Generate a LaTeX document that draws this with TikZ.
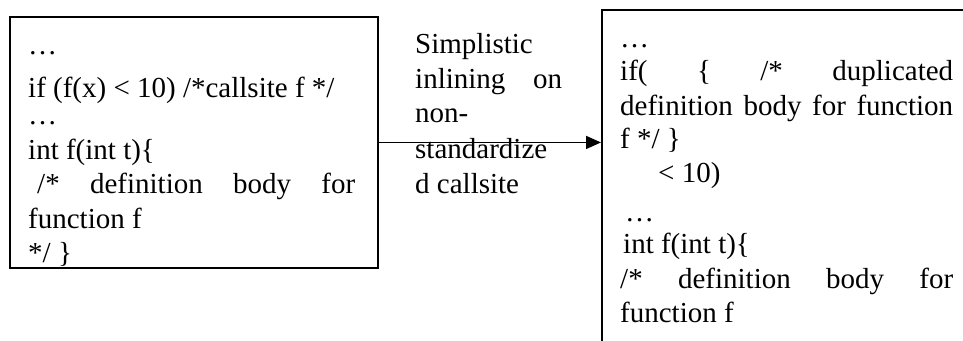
\documentclass[tikz,border=0pt]{standalone}
\usepackage{fontspec}
\setmainfont{Liberation Serif}
\usetikzlibrary{arrows.meta}
\tikzset{
  code/.style={anchor=base west, inner sep=0pt, font=\fontsize{29}{34}\selectfont},
  panel/.style={draw, line width=1.9pt, inner sep=0pt, anchor=north west},
  flow/.style={-{Triangle[length=15pt,width=13pt]}, line width=1.7pt},
}
\begin{document}
\begin{tikzpicture}[x=1pt,y=-1pt]
\useasboundingbox (0,0) rectangle (963,340);
\clip (0,0) rectangle (963,340);

% source panel: original call site and definition
\node[panel, minimum width=368pt, minimum height=251pt] (src) at (9,16) {};
\node[code] (s1) at (28,54)  {…};
\node[code] (s2) at (28,97)  {if (f(x) < 10) /*callsite f */};
\node[code] (s3) at (28,124) {…};
\node[code] (s4) at (28,159) {int f(int t)\{};
\node[code] (s5) at (37,193) {\hbox to 318pt{/*\hfill definition\hfill body\hfill for}};
\node[code] (s6) at (28,228) {function f};
\node[code] (s7) at (28,262) {*/ \}};

% result panel: body duplicated into the call site (runs past the page edge)
\node[panel, minimum width=380pt, minimum height=360pt] (dst) at (601,9) {};
\node[code] (d1) at (620,47)  {…};
\node[code] (d2) at (620,80)  {\hbox to 333pt{if(\hfill\{\hfill/*\hfill duplicated}};
\node[code] (d3) at (620,115) {\hbox to 333pt{definition\hfill body\hfill for\hfill function}};
\node[code] (d4) at (620,148) {f */ \}};
\node[code] (d5) at (658,182) {< 10)};
\node[code] (d6) at (625,221) {…};
\node[code] (d7) at (623,253) {int f(int t)\{};
\node[code] (d8) at (620,288) {\hbox to 333pt{/*\hfill definition\hfill body\hfill for}};
\node[code] (d9) at (620,322) {function f};

% transformation label
\node[code] (m1) at (415,53)  {Simplistic};
\node[code] (m2) at (415,88)  {\hbox to 147pt{inlining\hfill on}};
\node[code] (m3) at (415,122) {non-};
\node[code] (m4) at (415,158) {standardize};
\node[code] (m5) at (415,193) {d callsite};

\draw[flow] (src.east) -- (src.east -| dst.west);
\end{tikzpicture}
\end{document}
